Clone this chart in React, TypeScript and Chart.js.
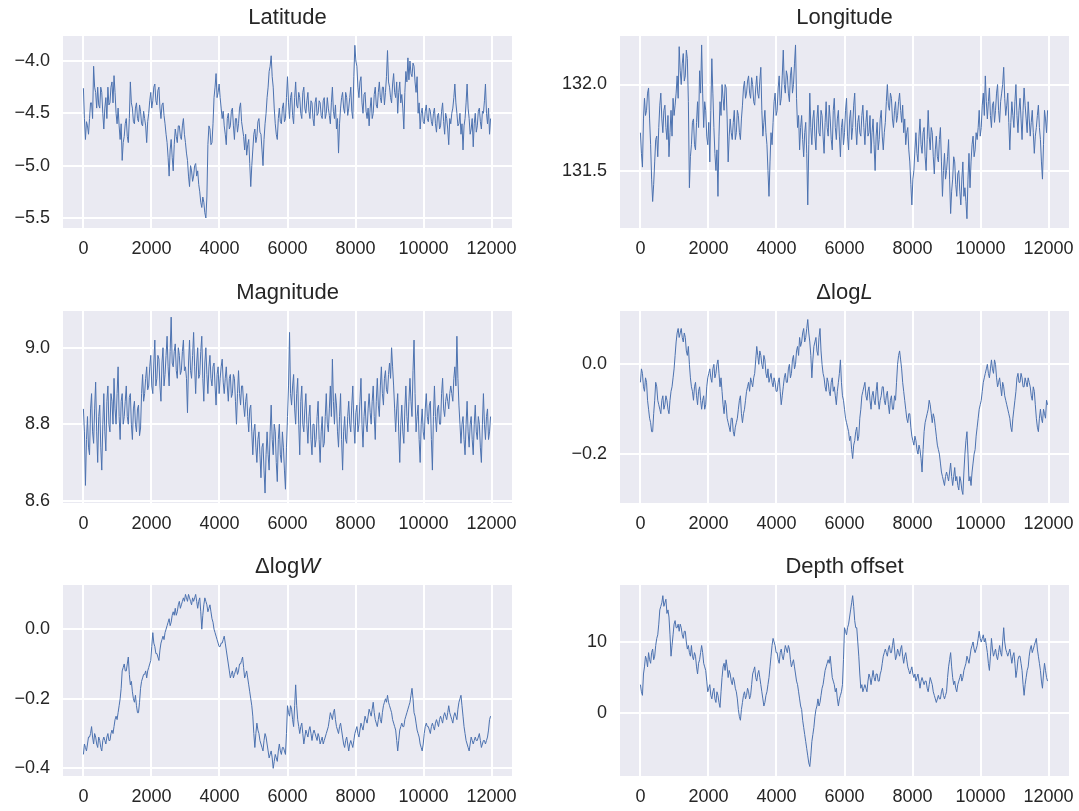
import React, { useEffect, useRef } from "react";
import { Chart, registerables } from "chart.js";

Chart.register(...registerables);

// ---------- data ----------
// main samples at iterations 0, 60, 120, ...; "mid" samples at 30, 90, 150, ...
const ITER_STEP = 60;
const X_TICKS = [0, 2000, 4000, 6000, 8000, 10000, 12000];

const latitude = [
  -4.26, -4.75, -4.62, -4.55, -4.40, -4.05, -4.30, -4.25, -4.45, -4.30,
  -4.65, -4.35, -4.25, -4.40, -4.20, -4.14, -4.50, -4.45, -4.75, -4.95,
  -4.72, -4.55, -4.78, -4.20, -4.45, -4.60, -4.40, -4.58, -4.48, -4.62,
  -4.55, -4.78, -4.50, -4.30, -4.38, -4.22, -4.42, -4.25, -4.55, -4.40,
  -4.60, -4.78, -5.10, -4.75, -5.05, -4.65, -4.78, -4.62, -4.75, -4.55,
  -4.78, -4.95, -5.20, -5.05, -5.10, -4.98, -5.05, -5.25, -5.40, -5.35,
  -5.50, -4.80, -4.65, -4.78, -4.35, -4.12, -4.30, -4.35, -4.55, -4.62,
  -4.80, -4.50, -4.62, -4.45, -4.75, -4.55, -4.60, -4.40, -4.65, -4.85,
  -4.90, -4.75, -5.20, -4.85, -4.65, -4.72, -4.55, -4.70, -5.00, -4.60,
  -4.35, -4.10, -3.95, -4.25, -4.60, -4.75, -4.45, -4.60, -4.40, -4.55,
  -4.15, -4.55, -4.30, -4.60, -4.20, -4.45, -4.35, -4.55, -4.25, -4.50,
  -4.30, -4.55, -4.40, -4.62, -4.35, -4.50, -4.40, -4.55, -4.35, -4.50,
  -4.45, -4.60, -4.25, -4.55, -4.65, -4.88, -4.45, -4.30, -4.50, -4.35,
  -4.45, -4.25, -4.55, -3.85, -4.05, -4.35, -4.15, -4.50, -4.30, -4.55,
  -4.62, -4.35, -4.50, -4.25, -4.45, -4.20, -4.40, -4.25, -4.30, -3.90,
  -4.25, -4.40, -4.12, -4.35, -4.50, -4.20, -4.32, -4.65, -4.10, -3.97,
  -4.00, -4.15, -4.05, -4.30, -4.50, -4.65, -4.45, -4.60, -4.42, -4.58,
  -4.48, -4.62, -4.45, -4.68, -4.50, -4.62, -4.40, -4.70, -4.55, -4.80,
  -4.60, -4.45, -4.22, -4.50, -4.60, -4.70, -4.85, -4.55, -4.22, -4.55,
  -4.65, -4.82, -4.50, -4.62, -4.45, -4.65, -4.50, -4.22, -4.60, -4.70,
];
const latitudeMid = [
  -4.55, -4.58, -4.70, -4.40, -4.55, -4.25, -4.45, -4.42, -4.25, -4.50,
  -4.45, -4.55, -4.42, -4.25, -4.40, -4.30, -4.60, -4.62, -4.60, -4.78,
  -4.60, -4.72, -4.55, -4.40, -4.58, -4.45, -4.55, -4.42, -4.60, -4.48,
  -4.62, -4.58, -4.38, -4.45, -4.25, -4.38, -4.28, -4.45, -4.42, -4.52,
  -4.70, -4.92, -4.85, -4.92, -4.80, -4.72, -4.62, -4.72, -4.62, -4.70,
  -4.88, -5.10, -5.00, -5.15, -5.00, -5.10, -5.18, -5.35, -5.30, -5.45,
  -5.30, -4.62, -4.80, -4.60, -4.25, -4.35, -4.22, -4.45, -4.48, -4.70,
  -4.55, -4.65, -4.48, -4.62, -4.55, -4.68, -4.45, -4.58, -4.72, -4.70,
  -4.80, -4.98, -5.00, -4.70, -4.78, -4.58, -4.68, -4.85, -4.75, -4.50,
  -4.25, -4.05, -4.15, -4.45, -4.70, -4.55, -4.58, -4.45, -4.58, -4.35,
  -4.40, -4.35, -4.52, -4.35, -4.42, -4.30, -4.50, -4.30, -4.45, -4.38,
  -4.48, -4.38, -4.55, -4.40, -4.52, -4.38, -4.52, -4.38, -4.55, -4.35,
  -4.52, -4.40, -4.48, -4.42, -4.55, -4.60, -4.35, -4.45, -4.30, -4.52,
  -4.35, -4.48, -4.15, -4.00, -4.25, -4.20, -4.40, -4.32, -4.48, -4.45,
  -4.45, -4.55, -4.32, -4.42, -4.30, -4.35, -4.25, -4.42, -4.15, -4.20,
  -4.35, -4.22, -4.30, -4.20, -4.30, -4.40, -4.45, -4.30, -4.20, -4.18,
  -4.12, -4.02, -4.20, -4.15, -4.40, -4.50, -4.58, -4.48, -4.55, -4.45,
  -4.58, -4.50, -4.60, -4.52, -4.65, -4.48, -4.58, -4.50, -4.65, -4.55,
  -4.50, -4.35, -4.40, -4.62, -4.50, -4.60, -4.62, -4.40, -4.45, -4.70,
  -4.55, -4.60, -4.68, -4.48, -4.58, -4.48, -4.38, -4.50, -4.45, -4.55,
];

const longitude = [
  131.72, 131.52, 131.92, 131.85, 131.98, 131.65, 131.32, 131.55, 131.70, 131.75,
  131.95, 131.72, 131.88, 131.68, 131.58, 131.85, 131.92, 131.88, 132.05, 132.22,
  132.00, 132.18, 132.05, 132.15, 131.40, 131.65, 131.80, 131.62, 131.90, 132.08,
  132.23, 131.75, 131.85, 131.65, 131.55, 132.15, 131.75, 131.50, 131.35, 131.90,
  132.00, 131.85, 131.98, 131.55, 131.80, 131.68, 131.85, 131.72, 131.82, 131.68,
  131.88, 132.02, 131.95, 132.05, 131.92, 132.00, 131.88, 132.05, 131.92, 132.10,
  131.70, 131.85, 131.65, 131.35, 131.72, 131.78, 131.95, 131.85, 132.05, 131.92,
  132.20, 131.95, 132.05, 131.90, 132.10, 132.00, 132.23, 131.75, 131.62, 131.82,
  131.58, 131.78, 131.30, 131.95, 131.65, 131.85, 131.62, 131.88, 131.70, 131.82,
  131.60, 131.90, 131.70, 131.80, 131.62, 131.92, 131.68, 131.85, 131.58, 131.80,
  131.72, 131.92, 131.62, 131.85, 131.75, 131.95, 131.65, 131.82, 131.70, 131.88,
  131.65, 131.85, 131.72, 131.60, 131.80, 131.50, 131.78, 131.68, 131.85, 131.62,
  131.78, 132.00, 131.85, 131.92, 131.75, 131.90, 131.82, 131.95, 131.78, 131.72,
  131.65, 131.75, 131.55, 131.30, 131.50, 131.72, 131.55, 131.80, 131.60, 131.75,
  131.50, 131.85, 131.62, 131.72, 131.48, 131.70, 131.55, 131.75, 131.35, 131.60,
  131.50, 131.68, 131.25, 131.45, 131.55, 131.35, 131.50, 131.30, 131.55, 131.40,
  131.22, 131.60, 131.55, 131.70, 131.62, 131.68, 131.85, 131.75, 131.95, 132.05,
  131.80, 131.98, 131.75, 131.90, 131.85, 132.00, 131.78, 131.95, 132.10, 131.82,
  131.95, 131.62, 131.90, 131.75, 132.00, 131.72, 131.92, 131.68, 131.98, 131.80,
  131.90, 131.70, 131.85, 131.60, 131.75, 131.88, 131.68, 131.45, 131.85, 131.72,
];
const longitudeMid = [
  131.60, 131.80, 131.82, 131.95, 131.80, 131.45, 131.42, 131.68, 131.58, 131.88,
  131.80, 131.85, 131.75, 131.82, 131.72, 131.70, 131.82, 131.95, 131.92, 132.08,
  132.12, 132.02, 132.20, 131.90, 131.58, 131.78, 131.65, 131.78, 131.75, 131.95,
  131.95, 131.90, 131.70, 131.78, 131.85, 131.95, 131.60, 131.62, 131.70, 131.82,
  131.92, 132.00, 131.80, 131.70, 131.72, 131.78, 131.68, 131.85, 131.72, 131.80,
  131.98, 131.92, 132.02, 131.95, 132.04, 131.90, 131.98, 131.95, 132.02, 131.85,
  131.78, 131.72, 131.50, 131.55, 131.65, 131.90, 131.82, 131.98, 131.88, 132.05,
  132.00, 132.08, 131.95, 132.05, 131.95, 132.12, 131.92, 131.82, 131.75, 131.68,
  131.72, 131.60, 131.65, 131.75, 131.80, 131.70, 131.80, 131.72, 131.85, 131.70,
  131.78, 131.75, 131.88, 131.68, 131.85, 131.75, 131.80, 131.70, 131.75, 131.65,
  131.85, 131.70, 131.80, 131.68, 131.88, 131.75, 131.78, 131.72, 131.82, 131.75,
  131.78, 131.70, 131.82, 131.72, 131.65, 131.70, 131.62, 131.80, 131.70, 131.72,
  131.90, 131.88, 131.95, 131.80, 131.85, 131.78, 131.90, 131.85, 131.88, 131.80,
  131.72, 131.62, 131.42, 131.45, 131.62, 131.60, 131.70, 131.65, 131.72, 131.58,
  131.68, 131.70, 131.75, 131.58, 131.62, 131.58, 131.68, 131.55, 131.50, 131.45,
  131.58, 131.45, 131.38, 131.58, 131.42, 131.48, 131.38, 131.45, 131.35, 131.32,
  131.45, 131.40, 131.65, 131.58, 131.72, 131.75, 131.70, 131.88, 131.82, 131.90,
  131.90, 131.82, 131.88, 131.78, 131.95, 131.85, 131.90, 132.00, 131.92, 131.88,
  131.78, 131.78, 131.82, 131.90, 131.82, 131.85, 131.80, 131.85, 131.88, 131.72,
  131.80, 131.78, 131.72, 131.70, 131.82, 131.75, 131.55, 131.65, 131.80, 131.85,
];

const magnitude = [
  8.84, 8.64, 8.82, 8.72, 8.88, 8.75, 8.91, 8.70, 8.85, 8.68,
  8.88, 8.73, 8.90, 8.78, 8.86, 8.92, 8.80, 8.95, 8.76, 8.88,
  8.82, 8.90, 8.80, 8.88, 8.76, 8.86, 8.78, 8.85, 8.79, 8.93,
  8.88, 8.95, 8.90, 8.98, 8.88, 9.02, 8.92, 8.97, 8.86, 9.00,
  8.93, 9.03, 8.90, 9.08, 8.95, 9.01, 8.92, 8.98, 8.94, 9.02,
  8.95, 8.83, 9.02, 8.92, 9.04, 8.88, 9.00, 8.93, 9.03, 8.86,
  9.00, 8.88, 8.98, 8.90, 8.96, 8.85, 8.95, 8.92, 8.97, 8.88,
  8.95, 8.86, 8.93, 8.88, 8.92, 8.80, 8.94, 8.85, 8.90, 8.82,
  8.88, 8.78, 8.85, 8.72, 8.80, 8.70, 8.78, 8.66, 8.75, 8.62,
  8.78, 8.68, 8.85, 8.72, 8.78, 8.65, 8.80, 8.70, 8.74, 8.63,
  8.82, 9.04, 8.85, 8.93, 8.80, 8.92, 8.72, 8.90, 8.78, 8.88,
  8.75, 8.85, 8.72, 8.80, 8.76, 8.86, 8.70, 8.82, 8.75, 8.88,
  8.78, 8.90, 8.97, 8.80, 8.85, 8.74, 8.88, 8.68, 8.82, 8.75,
  8.86, 8.78, 8.90, 8.75, 8.85, 8.80, 8.92, 8.74, 8.86, 8.78,
  8.88, 8.80, 8.90, 8.76, 8.92, 8.82, 8.95, 8.85, 8.94, 8.88,
  8.96, 9.00, 8.90, 8.78, 8.88, 8.70, 8.85, 8.75, 8.90, 8.78,
  8.92, 8.82, 9.02, 8.78, 8.85, 8.70, 8.84, 8.76, 8.88, 8.80,
  8.86, 8.68, 8.90, 8.78, 8.85, 8.80, 8.92, 8.82, 8.88, 8.84,
  8.90, 8.86, 8.95, 9.03, 8.85, 8.75, 8.82, 8.72, 8.86, 8.74,
  8.82, 8.72, 8.85, 8.76, 8.80, 8.70, 8.88, 8.76, 8.84, 8.78,
];
const magnitudeMid = [
  8.78, 8.76, 8.74, 8.84, 8.78, 8.84, 8.78, 8.82, 8.74, 8.80,
  8.78, 8.86, 8.80, 8.88, 8.80, 8.84, 8.88, 8.82, 8.86, 8.80,
  8.86, 8.82, 8.87, 8.80, 8.84, 8.80, 8.84, 8.77, 8.88, 8.86,
  8.92, 8.89, 8.95, 8.90, 8.96, 8.90, 8.98, 8.90, 8.96, 8.90,
  8.98, 8.95, 8.99, 8.96, 8.99, 8.94, 9.00, 8.93, 8.99, 8.94,
  8.92, 8.96, 8.94, 8.98, 8.95, 8.96, 8.92, 8.99, 8.92, 8.96,
  8.93, 8.95, 8.92, 8.95, 8.90, 8.93, 8.88, 8.95, 8.91, 8.92,
  8.90, 8.92, 8.87, 8.93, 8.86, 8.88, 8.88, 8.90, 8.85, 8.86,
  8.82, 8.84, 8.78, 8.78, 8.74, 8.76, 8.72, 8.74, 8.68, 8.72,
  8.72, 8.78, 8.76, 8.80, 8.70, 8.76, 8.72, 8.78, 8.68, 8.74,
  8.90, 8.88, 8.90, 8.84, 8.88, 8.80, 8.86, 8.80, 8.84, 8.80,
  8.82, 8.76, 8.80, 8.74, 8.82, 8.76, 8.78, 8.74, 8.82, 8.80,
  8.84, 8.82, 8.86, 8.88, 8.78, 8.82, 8.76, 8.78, 8.76, 8.82,
  8.80, 8.85, 8.80, 8.83, 8.78, 8.86, 8.80, 8.82, 8.80, 8.84,
  8.83, 8.86, 8.82, 8.86, 8.85, 8.90, 8.88, 8.92, 8.89, 8.93,
  8.92, 8.95, 8.84, 8.84, 8.78, 8.80, 8.78, 8.84, 8.82, 8.86,
  8.86, 8.94, 8.88, 8.82, 8.76, 8.80, 8.78, 8.84, 8.82, 8.85,
  8.76, 8.82, 8.82, 8.84, 8.80, 8.88, 8.84, 8.86, 8.86, 8.88,
  8.88, 8.92, 8.90, 8.92, 8.80, 8.80, 8.76, 8.80, 8.78, 8.80,
  8.76, 8.80, 8.78, 8.82, 8.74, 8.80, 8.80, 8.82, 8.76, 8.82,
];

const dLogL = [
  -0.04, -0.02, -0.06, -0.04, -0.10, -0.13, -0.15, -0.08, -0.05, -0.09,
  -0.11, -0.07, -0.09, -0.08, -0.11, -0.06, -0.03, 0.02, 0.07, 0.06,
  0.08, 0.05, 0.06, 0.02, 0.00, -0.05, -0.08, -0.04, -0.09, -0.05,
  -0.10, -0.07, -0.09, -0.03, -0.01, -0.04, 0.00, -0.02, 0.01, -0.05,
  -0.06, -0.11, -0.09, -0.13, -0.15, -0.12, -0.16, -0.13, -0.10, -0.07,
  -0.13, -0.10, -0.06, -0.04, -0.03, -0.05, -0.02, 0.04, 0.00, 0.02,
  -0.01, 0.01, -0.03, -0.04, -0.02, -0.05, -0.04, -0.06, -0.03, -0.09,
  -0.05, -0.02, -0.04, 0.00, -0.02, 0.02, 0.00, 0.04, 0.06, 0.05,
  0.08, 0.06, 0.10, 0.05, -0.03, 0.04, 0.06, 0.02, 0.08, 0.00,
  -0.03, -0.06, -0.04, -0.07, -0.03, -0.05, -0.09, -0.04, 0.01, -0.07,
  -0.10, -0.13, -0.15, -0.16, -0.21, -0.17, -0.14, -0.16, -0.10, -0.06,
  -0.04, -0.08, -0.05, -0.10, -0.06, -0.09, -0.04, -0.10, -0.07, -0.05,
  -0.09, -0.06, -0.11, -0.07, -0.10, -0.08, 0.00, 0.03, -0.01, -0.06,
  -0.10, -0.13, -0.11, -0.16, -0.18, -0.17, -0.20, -0.19, -0.24, -0.15,
  -0.12, -0.10, -0.09, -0.13, -0.12, -0.16, -0.19, -0.22, -0.25, -0.27,
  -0.24, -0.26, -0.22, -0.27, -0.23, -0.25, -0.28, -0.26, -0.29, -0.20,
  -0.15, -0.26, -0.27, -0.22, -0.19, -0.14, -0.10, -0.08, -0.04, -0.02,
  0.00, -0.03, 0.01, -0.02, 0.00, -0.05, -0.03, -0.07, -0.05, -0.08,
  -0.10, -0.12, -0.15, -0.10, -0.06, -0.02, -0.04, -0.03, -0.05, -0.04,
  -0.03, -0.05, -0.08, -0.06, -0.12, -0.15, -0.10, -0.13, -0.11, -0.08,
];
const dLogLMid = [
  -0.01, -0.05, -0.03, -0.08, -0.12, -0.15, -0.11, -0.04, -0.08, -0.10,
  -0.08, -0.10, -0.07, -0.10, -0.08, -0.05, -0.01, 0.05, 0.08, 0.07,
  0.06, 0.07, 0.03, 0.04, -0.03, -0.06, -0.05, -0.07, -0.06, -0.08,
  -0.08, -0.10, -0.05, -0.02, -0.03, -0.01, -0.03, 0.00, -0.02, -0.03,
  -0.09, -0.08, -0.12, -0.14, -0.12, -0.15, -0.14, -0.12, -0.08, -0.11,
  -0.11, -0.08, -0.05, -0.06, -0.04, -0.03, 0.01, 0.02, 0.03, 0.00,
  0.02, -0.02, -0.01, -0.03, -0.04, -0.03, -0.06, -0.04, -0.06, -0.07,
  -0.03, -0.04, -0.01, -0.03, 0.01, -0.01, 0.03, 0.02, 0.04, 0.07,
  0.05, 0.08, 0.07, 0.02, 0.01, 0.05, 0.03, 0.06, 0.03, -0.02,
  -0.05, -0.03, -0.06, -0.04, -0.06, -0.07, -0.06, -0.02, -0.04, -0.08,
  -0.12, -0.14, -0.17, -0.19, -0.18, -0.15, -0.17, -0.12, -0.07, -0.05,
  -0.07, -0.06, -0.08, -0.07, -0.08, -0.06, -0.08, -0.08, -0.05, -0.08,
  -0.07, -0.09, -0.08, -0.10, -0.07, -0.04, 0.02, 0.01, -0.04, -0.08,
  -0.12, -0.11, -0.14, -0.17, -0.16, -0.19, -0.18, -0.21, -0.19, -0.13,
  -0.11, -0.08, -0.11, -0.11, -0.14, -0.18, -0.20, -0.24, -0.26, -0.25,
  -0.25, -0.24, -0.25, -0.25, -0.26, -0.27, -0.25, -0.28, -0.24, -0.17,
  -0.20, -0.25, -0.24, -0.20, -0.16, -0.12, -0.09, -0.06, -0.03, -0.01,
  -0.02, -0.01, -0.01, 0.01, -0.03, -0.04, -0.05, -0.04, -0.07, -0.09,
  -0.11, -0.14, -0.12, -0.08, -0.03, -0.04, -0.02, -0.05, -0.03, -0.05,
  -0.04, -0.07, -0.05, -0.09, -0.14, -0.12, -0.12, -0.10, -0.12, -0.09,
];

const dLogW = [
  -0.36, -0.34, -0.33, -0.31, -0.28, -0.33, -0.31, -0.34, -0.32, -0.35,
  -0.31, -0.33, -0.30, -0.32, -0.29, -0.28, -0.25, -0.24, -0.20, -0.12,
  -0.10, -0.12, -0.08, -0.16, -0.18, -0.21, -0.22, -0.24, -0.17, -0.14,
  -0.13, -0.14, -0.11, -0.09, -0.01, -0.05, -0.07, -0.09, -0.04, -0.02,
  -0.01, 0.01, 0.03, 0.02, 0.05, 0.06, 0.05, 0.08, 0.07, 0.09,
  0.10, 0.08, 0.09, 0.07, 0.08, 0.10, 0.06, 0.09, 0.00, 0.07,
  0.08, 0.05, 0.07, 0.03, 0.00, -0.02, -0.04, -0.05, -0.04, -0.02,
  -0.06, -0.10, -0.14, -0.12, -0.13, -0.11, -0.12, -0.10, -0.08, -0.14,
  -0.12, -0.16, -0.20, -0.25, -0.34, -0.27, -0.30, -0.33, -0.35, -0.30,
  -0.33, -0.37, -0.35, -0.40, -0.36, -0.38, -0.33, -0.36, -0.34, -0.36,
  -0.22, -0.25, -0.23, -0.28, -0.16, -0.26, -0.30, -0.27, -0.33, -0.29,
  -0.31, -0.28, -0.32, -0.29, -0.31, -0.30, -0.33, -0.31, -0.32, -0.30,
  -0.28, -0.24, -0.26, -0.23, -0.28, -0.30, -0.27, -0.31, -0.34, -0.31,
  -0.35, -0.32, -0.34, -0.30, -0.28, -0.31, -0.27, -0.29, -0.25, -0.27,
  -0.23, -0.25, -0.21, -0.26, -0.28, -0.24, -0.27, -0.22, -0.20, -0.19,
  -0.22, -0.24, -0.27, -0.29, -0.35, -0.29, -0.27, -0.28, -0.25, -0.23,
  -0.21, -0.17, -0.24, -0.27, -0.30, -0.33, -0.35, -0.30, -0.27, -0.28,
  -0.30, -0.27, -0.29, -0.26, -0.28, -0.25, -0.27, -0.24, -0.26, -0.22,
  -0.25, -0.27, -0.24, -0.26, -0.21, -0.19, -0.25, -0.30, -0.33, -0.35,
  -0.31, -0.33, -0.31, -0.32, -0.30, -0.34, -0.32, -0.33, -0.31, -0.26,
];
const dLogWMid = [
  -0.33, -0.35, -0.31, -0.30, -0.31, -0.30, -0.33, -0.31, -0.34, -0.32,
  -0.32, -0.31, -0.32, -0.30, -0.30, -0.26, -0.26, -0.22, -0.17, -0.11,
  -0.12, -0.10, -0.13, -0.15, -0.20, -0.19, -0.24, -0.21, -0.15, -0.13,
  -0.12, -0.12, -0.10, -0.05, -0.04, -0.07, -0.08, -0.06, -0.03, -0.03,
  0.00, 0.02, 0.01, 0.04, 0.04, 0.04, 0.07, 0.06, 0.08, 0.08,
  0.09, 0.10, 0.08, 0.09, 0.09, 0.08, 0.08, 0.05, 0.04, 0.09,
  0.07, 0.06, 0.05, 0.02, -0.01, -0.03, -0.05, -0.04, -0.03, -0.04,
  -0.08, -0.12, -0.13, -0.14, -0.12, -0.13, -0.10, -0.09, -0.11, -0.13,
  -0.14, -0.18, -0.22, -0.30, -0.30, -0.29, -0.32, -0.34, -0.32, -0.31,
  -0.35, -0.36, -0.37, -0.38, -0.37, -0.35, -0.35, -0.34, -0.35, -0.30,
  -0.24, -0.22, -0.26, -0.22, -0.22, -0.28, -0.28, -0.30, -0.31, -0.30,
  -0.29, -0.30, -0.30, -0.30, -0.32, -0.31, -0.32, -0.33, -0.31, -0.29,
  -0.26, -0.25, -0.24, -0.26, -0.29, -0.28, -0.29, -0.33, -0.32, -0.33,
  -0.33, -0.33, -0.32, -0.29, -0.30, -0.29, -0.28, -0.27, -0.26, -0.25,
  -0.24, -0.23, -0.24, -0.27, -0.26, -0.26, -0.24, -0.21, -0.21, -0.21,
  -0.23, -0.26, -0.28, -0.32, -0.32, -0.28, -0.28, -0.26, -0.24, -0.22,
  -0.19, -0.20, -0.25, -0.29, -0.31, -0.34, -0.33, -0.28, -0.28, -0.29,
  -0.28, -0.28, -0.27, -0.27, -0.26, -0.26, -0.25, -0.25, -0.24, -0.24,
  -0.26, -0.25, -0.25, -0.23, -0.20, -0.22, -0.28, -0.32, -0.34, -0.33,
  -0.32, -0.32, -0.32, -0.31, -0.32, -0.33, -0.32, -0.32, -0.29, -0.25,
];

const depthOffset = [
  4.0, 2.5, 6.5, 7.5, 8.5, 7.0, 9.0, 8.0, 10.5, 12.5,
  15.0, 16.5, 15.5, 14.0, 13.5, 8.0, 11.0, 13.0, 12.0, 11.5,
  12.0, 10.5, 11.5, 9.0, 8.5, 9.5, 7.5, 8.0, 5.5, 7.5,
  9.5, 7.0, 6.0, 3.0, 4.0, 2.0, 3.5, 1.5, 2.5, 0.8,
  5.0, 7.0, 7.5, 5.0, 5.5, 4.0, 4.5, 3.0, 0.5, -1.0,
  1.5, 3.0, 2.5, 3.0, 2.5, 5.5, 6.5, 4.5, 6.0, 4.0,
  2.0, 1.5, 3.0, 5.0, 8.0, 10.5, 9.5, 8.5, 7.0, 9.0,
  7.5, 9.5, 8.5, 9.0, 6.5, 7.5, 5.5, 4.0, 2.0, 0.5,
  -2.0, -4.0, -6.0, -7.5, -4.0, -2.0, 0.5, 2.0, 1.5, 3.5,
  5.0, 6.5, 7.5, 8.0, 5.0, 4.0, 3.5, 1.0, 2.5, 4.0,
  12.0, 11.0, 12.5, 14.5, 16.5, 13.0, 12.0, 8.0, 3.5, 3.0,
  4.0, 3.0, 5.5, 4.0, 6.0, 4.5, 5.5, 4.5, 6.0, 8.0,
  9.0, 8.0, 9.5, 8.5, 10.5, 7.5, 9.0, 8.0, 9.5, 7.0,
  8.5, 6.5, 5.5, 6.5, 5.0, 4.5, 5.5, 3.5, 5.0, 4.0,
  4.5, 3.0, 5.0, 4.0, 2.5, 1.5, 2.5, 2.0, 3.5, 2.0,
  3.0, 6.5, 8.5, 5.0, 4.5, 3.0, 4.5, 5.5, 5.0, 6.5,
  8.0, 7.0, 9.0, 10.0, 8.5, 9.5, 11.5, 10.0, 11.0, 10.5,
  8.5, 6.0, 10.5, 8.0, 9.0, 7.5, 9.5, 8.0, 12.0, 9.0,
  8.0, 9.0, 7.0, 8.5, 5.0, 7.5, 8.0, 6.0, 2.5, 5.0,
  6.5, 9.0, 8.5, 9.5, 10.5, 8.0, 6.0, 3.5, 7.0, 5.0,
];
const depthOffsetMid = [
  3.0, 5.5, 8.0, 6.5, 7.5, 8.5, 7.5, 9.5, 11.0, 14.5,
  15.5, 15.0, 16.0, 14.5, 11.0, 9.5, 12.5, 12.0, 12.5, 12.5,
  11.0, 11.5, 10.0, 9.5, 8.0, 8.0, 8.5, 6.5, 7.0, 8.5,
  8.5, 6.5, 4.5, 3.5, 2.5, 3.0, 2.0, 3.0, 1.5, 3.0,
  6.5, 6.0, 6.5, 6.0, 4.5, 5.0, 3.5, 2.0, -0.5, 0.5,
  2.5, 2.0, 3.5, 2.0, 4.0, 6.0, 5.0, 5.5, 5.0, 3.0,
  1.0, 2.5, 4.0, 6.5, 9.5, 10.0, 8.5, 7.5, 8.5, 8.0,
  8.5, 9.0, 9.5, 7.5, 7.0, 6.5, 4.5, 3.0, 1.0, -1.0,
  -3.0, -5.0, -7.0, -6.0, -3.0, -0.5, 1.0, 1.0, 2.5, 4.0,
  6.0, 7.0, 7.0, 6.5, 4.5, 3.0, 2.0, 2.0, 3.0, 7.5,
  11.5, 12.0, 13.5, 15.5, 15.0, 12.0, 10.0, 5.5, 4.0, 3.5,
  3.5, 4.5, 5.0, 5.0, 5.0, 5.5, 4.5, 5.5, 7.0, 8.5,
  8.5, 9.0, 8.5, 9.5, 9.0, 8.0, 8.5, 9.0, 8.0, 8.0,
  7.5, 6.0, 6.0, 5.5, 5.5, 5.0, 4.5, 4.5, 4.5, 4.5,
  3.5, 4.0, 4.5, 3.0, 2.0, 2.0, 2.0, 3.0, 2.5, 2.5,
  5.0, 7.5, 6.5, 4.0, 3.5, 4.0, 5.0, 4.5, 6.0, 7.0,
  7.5, 8.0, 9.5, 9.0, 9.0, 10.5, 10.5, 10.5, 10.0, 9.5,
  7.0, 8.0, 9.0, 8.5, 8.0, 8.5, 8.5, 10.0, 10.0, 8.5,
  8.5, 8.0, 8.0, 7.0, 6.0, 8.0, 7.0, 4.0, 4.0, 6.0,
  8.0, 9.5, 9.0, 10.0, 9.0, 7.0, 4.5, 5.5, 6.0, 4.5,
];

const latTicks = [-5.5, -5.0, -4.5, -4.0];
const lonTicks = [131.5, 132.0];
const magTicks = [8.6, 8.8, 9.0];
const dLogLTicks = [-0.2, 0.0];
const dLogWTicks = [-0.4, -0.2, 0.0];
const depthTicks = [0, 10];

// ---------- layout / style ----------
const FONT = '"Liberation Sans", Arial, sans-serif';
const TEXT = "#262626";
const LINE = "#4C72B0";
const BG = "#EAEAF2";

const Y_AXIS_W = 63;
const X_AXIS_H = 34;
const TITLE_H = 36;
const PLOT_W = 449;
const PAD_R = 10;
const CANVAS_W = Y_AXIS_W + PLOT_W + PAD_R;
const TICK_SIZE = 18;
const TITLE_SIZE = 22;

type Part = { text: string; italic: boolean };
type PanelDef = {
  title: Part[];
  values: number[];
  mids: number[];
  yMin: number;
  yMax: number;
  yTicks: number[];
  decimals: number;
  left: number;
  top: number;
  plotH: number;
};

const panels: PanelDef[] = [
  { title: [{ text: "Latitude", italic: false }], values: latitude, mids: latitudeMid, yMin: -5.596, yMax: -3.761, yTicks: latTicks, decimals: 1, left: 0, top: 0, plotH: 192 },
  { title: [{ text: "Longitude", italic: false }], values: longitude, mids: longitudeMid, yMin: 131.166, yMax: 132.282, yTicks: lonTicks, decimals: 1, left: 557, top: 0, plotH: 192 },
  { title: [{ text: "Magnitude", italic: false }], values: magnitude, mids: magnitudeMid, yMin: 8.594, yMax: 9.096, yTicks: magTicks, decimals: 1, left: 0, top: 275, plotH: 192 },
  { title: [{ text: "Δlog", italic: false }, { text: "L", italic: true }], values: dLogL, mids: dLogLMid, yMin: -0.309, yMax: 0.119, yTicks: dLogLTicks, decimals: 1, left: 557, top: 275, plotH: 192 },
  { title: [{ text: "Δlog", italic: false }, { text: "W", italic: true }], values: dLogW, mids: dLogWMid, yMin: -0.422, yMax: 0.127, yTicks: dLogWTicks, decimals: 1, left: 0, top: 549, plotH: 191 },
  { title: [{ text: "Depth offset", italic: false }], values: depthOffset, mids: depthOffsetMid, yMin: -8.83, yMax: 18.0, yTicks: depthTicks, decimals: 0, left: 557, top: 549, plotH: 191 },
];

const fmt = (v: number, d: number) => {
  const s = Math.abs(v).toFixed(d);
  return v < -1e-9 ? "\u2212" + s : s;
};

const bgPlugin = {
  id: "plotBg",
  beforeDraw(chart: any) {
    const { ctx, chartArea: a } = chart;
    ctx.save();
    ctx.fillStyle = BG;
    ctx.fillRect(a.left, a.top, a.right - a.left, a.bottom - a.top);
    ctx.restore();
  },
};

const titlePlugin = {
  id: "mathTitle",
  afterDraw(chart: any, _args: any, opts: any) {
    const parts: Part[] = opts.parts || [];
    const { ctx, chartArea: a } = chart;
    const size = opts.size || TITLE_SIZE;
    ctx.save();
    ctx.fillStyle = TEXT;
    ctx.textBaseline = "middle";
    ctx.textAlign = "left";
    const fontOf = (p: Part) => `${p.italic ? "italic " : ""}normal ${size}px ${FONT}`;
    let total = 0;
    const widths = parts.map((p) => {
      ctx.font = fontOf(p);
      const w = ctx.measureText(p.text).width;
      total += w;
      return w;
    });
    let x = (a.left + a.right) / 2 - total / 2;
    const y = opts.y || 17.5;
    parts.forEach((p, i) => {
      ctx.font = fontOf(p);
      ctx.fillText(p.text, x, y);
      x += widths[i];
    });
    ctx.restore();
  },
};

function buildSeries(values: number[], mids: number[]) {
  const pts: { x: number; y: number }[] = [];
  values.forEach((v, i) => {
    pts.push({ x: i * ITER_STEP, y: v });
    if (i < mids.length) pts.push({ x: i * ITER_STEP + ITER_STEP / 2, y: mids[i] });
  });
  return pts;
}

function TracePanel({ p }: { p: PanelDef }) {
  const ref = useRef<HTMLCanvasElement>(null);
  const h = TITLE_H + p.plotH + X_AXIS_H;
  useEffect(() => {
    const chart = new Chart(ref.current!, {
      type: "line",
      data: {
        datasets: [
          {
            data: buildSeries(p.values, p.mids),
            borderColor: LINE,
            borderWidth: 1,
            pointRadius: 0,
            tension: 0,
            fill: false,
          },
        ],
      },
      options: {
        animation: false,
        responsive: false,
        maintainAspectRatio: false,
        layout: { padding: { top: TITLE_H, right: PAD_R, left: 0, bottom: 0 } },
        plugins: {
          legend: { display: false },
          title: { display: false },
          tooltip: { enabled: false },
          mathTitle: { parts: p.title, size: TITLE_SIZE, y: 17.5 },
        } as any,
        scales: {
          x: {
            type: "linear",
            min: -600,
            max: 12600,
            border: { display: false },
            grid: { color: "#FFFFFF", lineWidth: 2, drawTicks: false },
            ticks: {
              color: TEXT,
              font: { family: FONT, size: TICK_SIZE },
              padding: 10,
              maxRotation: 0,
              autoSkip: false,
              callback: (v: any) => String(v),
            },
            afterBuildTicks: (s: any) => {
              s.ticks = X_TICKS.map((v) => ({ value: v }));
            },
            afterFit: (s: any) => {
              s.height = X_AXIS_H;
              s.paddingLeft = 0;
              s.paddingRight = 0;
            },
          },
          y: {
            type: "linear",
            min: p.yMin,
            max: p.yMax,
            border: { display: false },
            grid: { color: "#FFFFFF", lineWidth: 2, drawTicks: false },
            ticks: {
              color: TEXT,
              font: { family: FONT, size: TICK_SIZE },
              padding: 13,
              autoSkip: false,
              callback: (v: any) => fmt(Number(v), p.decimals),
            },
            afterBuildTicks: (s: any) => {
              s.ticks = p.yTicks.map((v) => ({ value: v }));
            },
            afterFit: (s: any) => {
              s.width = Y_AXIS_W;
              s.paddingTop = 0;
              s.paddingBottom = 0;
            },
          },
        },
      } as any,
      plugins: [bgPlugin, titlePlugin],
    });
    return () => chart.destroy();
  }, []);
  return (
    <canvas
      ref={ref}
      width={CANVAS_W}
      height={h}
      style={{ position: "absolute", left: p.left, top: p.top, width: CANVAS_W, height: h }}
    />
  );
}

export default function App() {
  return (
    <div
      style={{
        position: "absolute",
        left: 0,
        top: 0,
        width: 1079,
        height: 811,
        overflow: "hidden",
        background: "#FFFFFF",
      }}
    >
      {panels.map((p, i) => (
        <TracePanel key={i} p={p} />
      ))}
    </div>
  );
}
